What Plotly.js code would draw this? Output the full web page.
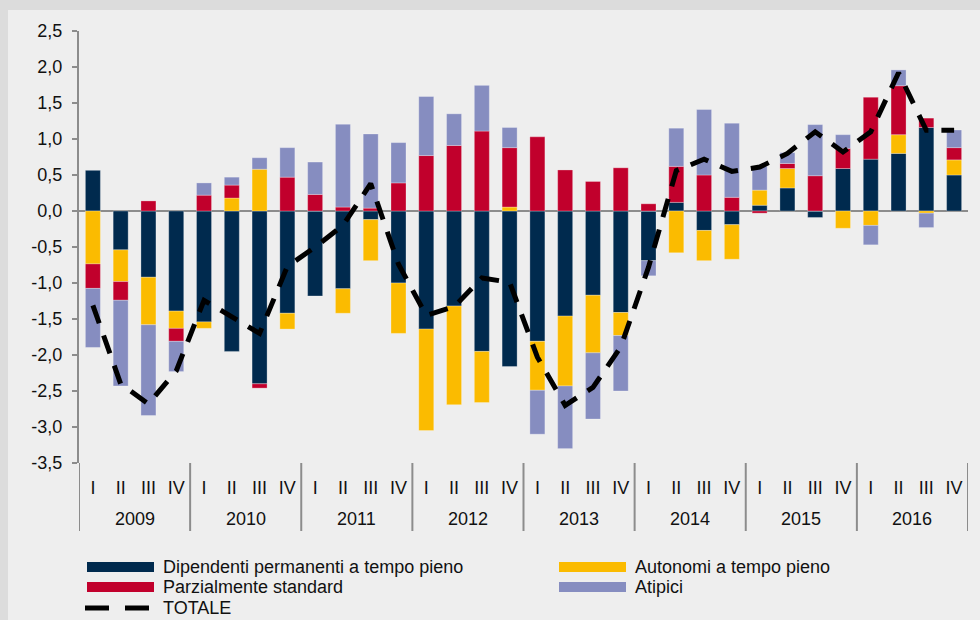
<!DOCTYPE html>
<html>
<head>
<meta charset="utf-8">
<script src="https://cdn.plot.ly/plotly-3.0.1.min.js"></script>
<style>
  html, body { margin: 0; padding: 0; background: #dcdcdc; width: 980px; height: 620px; overflow: hidden; }
  #chart { position: absolute; left: 8px; top: 10px; width: 972px; height: 610px; }
</style>
</head>
<body>
<div id="chart"></div>
<script>
// ---- data ----
const years = ['2009', '2010', '2011', '2012', '2013', '2014', '2015', '2016'];
const quarters = ['I', 'II', 'III', 'IV'];

const seriesNames = ['Dipendenti permanenti a tempo pieno', 'Autonomi a tempo pieno', 'Parzialmente standard', 'Atipici', 'TOTALE'];
const seriesColors = ['#002a4e', '#fbbb00', '#c1002c', '#868dc0', '#000000'];

const dipendenti = [0.565, -0.54, -0.92, -1.39, -1.54, -1.95, -2.40, -1.42,
                    -1.18, -1.08, -0.12, -1.00, -1.64, -1.32, -1.95, -2.16,
                    -1.81, -1.46, -1.17, -1.41, -0.69, 0.12, -0.27, -0.19,
                    0.08, 0.32, -0.09, 0.59, 0.72, 0.80, 1.16, 0.50];
const autonomi = [-0.735, -0.44, -0.66, -0.24, -0.09, 0.18, 0.58, -0.22,
                  0, -0.34, -0.57, -0.70, -1.41, -1.37, -0.71, 0.055,
                  -0.68, -0.97, -0.80, -0.32, 0, -0.58, -0.42, -0.48,
                  0.21, 0.27, 0, -0.24, -0.20, 0.26, -0.03, 0.21];
const parziali = [-0.34, -0.26, 0.14, -0.18, 0.22, 0.18, -0.06, 0.47,
                  0.23, 0.055, 0.04, 0.39, 0.77, 0.91, 1.11, 0.825,
                  1.03, 0.57, 0.41, 0.60, 0.10, 0.50, 0.50, 0.19,
                  -0.03, 0.07, 0.49, 0.28, 0.86, 0.68, 0.13, 0.17];
const atipici = [-0.82, -1.19, -1.26, -0.42, 0.17, 0.11, 0.16, 0.41,
                 0.45, 1.15, 1.03, 0.56, 0.82, 0.44, 0.635, 0.28,
                 -0.61, -0.87, -0.92, -0.77, -0.21, 0.53, 0.91, 1.03,
                 0.33, 0.15, 0.71, 0.19, -0.27, 0.22, -0.20, 0.245];
const totale = [-1.31, -2.40, -2.68, -2.22, -1.24, -1.47, -1.70, -0.77,
                -0.50, -0.20, 0.38, -0.74, -1.45, -1.33, -0.93, -0.99,
                -2.03, -2.70, -2.45, -1.89, -0.78, 0.56, 0.72, 0.55,
                0.61, 0.80, 1.10, 0.82, 1.10, 1.92, 1.12, 1.12];

const yTickVals = [2.5, 2.0, 1.5, 1.0, 0.5, 0.0, -0.5, -1.0, -1.5, -2.0, -2.5, -3.0, -3.5];
const yTickText = ['2,5', '2,0', '1,5', '1,0', '0,5', '0,0', '-0,5', '-1,0', '-1,5', '-2,0', '-2,5', '-3,0', '-3,5'];

// ---- build category positions ----
const xIdx = [], xLabels = [];
years.forEach((y, yi) => quarters.forEach((q, qi) => { xIdx.push(yi * 4 + qi); xLabels.push(q); }));

const FONT = 'Liberation Sans, Arial, sans-serif';
const FS = 18;
const barSeries = [dipendenti, autonomi, parziali, atipici];

const traces = barSeries.map((vals, i) => ({
  type: 'bar', x: xIdx, y: vals, name: seriesNames[i],
  marker: { color: seriesColors[i], line: { width: 0.8, color: 'rgba(255,255,255,0.35)' } },
  showlegend: false, hoverinfo: 'skip'
}));
traces.push({
  type: 'scatter', mode: 'lines', x: xIdx, y: totale, name: seriesNames[4],
  line: { color: '#000', width: 5, dash: '19px,13px' },
  showlegend: false, hoverinfo: 'skip'
});

// ---- page geometry helpers (absolute page px -> paper) ----
const W = 972, H = 610, ML = 71, MR = 12, MT = 21, MB = 157;
const PW = W - ML - MR, PH = H - MT - MB;
const OX = 8 + ML, OY = 10 + MT; // page coords of plot-area top-left
const px = X => (X - OX) / PW;
const py = Y => (OY + PH - Y) / PH;

const shapes = [];
const annotations = [];

// year dividers in category area
for (let k = 0; k <= years.length; k++) {
  shapes.push({ type: 'line', xref: 'x', yref: 'paper', x0: k * 4 - 0.5, x1: k * 4 - 0.5,
    y0: py(463), y1: py(531), line: { color: '#8c8c8c', width: 2 } });
}
// year labels
years.forEach((y, yi) => {
  annotations.push({ xref: 'x', yref: 'paper', x: yi * 4 + 1.5, y: py(519), text: y,
    showarrow: false, xanchor: 'center', yanchor: 'middle', font: { family: FONT, size: FS, color: '#111' } });
});

// custom legend
const legendItems = [
  { i: 0, x: 87, y: 567 }, { i: 1, x: 559, y: 567 },
  { i: 2, x: 87, y: 587 }, { i: 3, x: 559, y: 587 }
];
legendItems.forEach(it => {
  shapes.push({ type: 'rect', xref: 'paper', yref: 'paper', x0: px(it.x), x1: px(it.x + 67),
    y0: py(it.y - 5), y1: py(it.y + 5), fillcolor: seriesColors[it.i], line: { width: 0 } });
  annotations.push({ xref: 'paper', yref: 'paper', x: px(it.x + 74), y: py(it.y), text: seriesNames[it.i],
    showarrow: false, xanchor: 'left', yanchor: 'middle', font: { family: FONT, size: FS, color: '#111' } });
});
shapes.push({ type: 'line', xref: 'paper', yref: 'paper', x0: px(85), x1: px(149), y0: py(608), y1: py(608),
  line: { color: '#000', width: 5, dash: '24px,16px' } });
annotations.push({ xref: 'paper', yref: 'paper', x: px(161), y: py(608), text: seriesNames[4],
  showarrow: false, xanchor: 'left', yanchor: 'middle', font: { family: FONT, size: FS, color: '#111' } });

const layout = {
  width: W, height: H,
  margin: { l: ML, r: MR, t: MT, b: MB, pad: 0 },
  paper_bgcolor: '#eeeeee', plot_bgcolor: '#eeeeee',
  barmode: 'relative', bargap: 0.46,
  font: { family: FONT, size: FS, color: '#111' },
  showlegend: false,
  xaxis: {
    range: [-0.5, 31.5], tickvals: xIdx, ticktext: xLabels, showgrid: false, zeroline: false,
    showline: false, ticks: '', ticklabelstandoff: 12, fixedrange: true,
    tickfont: { family: FONT, size: FS, color: '#111' }
  },
  yaxis: {
    range: [-3.5, 2.5], tickvals: yTickVals, ticktext: yTickText, showgrid: false,
    zeroline: true, zerolinecolor: '#8c8c8c', zerolinewidth: 2,
    showline: true, linecolor: '#8c8c8c', linewidth: 2,
    ticks: 'outside', ticklen: 5, tickwidth: 2, tickcolor: '#8c8c8c', ticklabelstandoff: 6,
    tickfont: { family: FONT, size: FS, color: '#111' }, fixedrange: true
  },
  shapes: shapes, annotations: annotations
};

Plotly.newPlot('chart', traces, layout, { displayModeBar: false, staticPlot: true });
</script>
</body>
</html>
